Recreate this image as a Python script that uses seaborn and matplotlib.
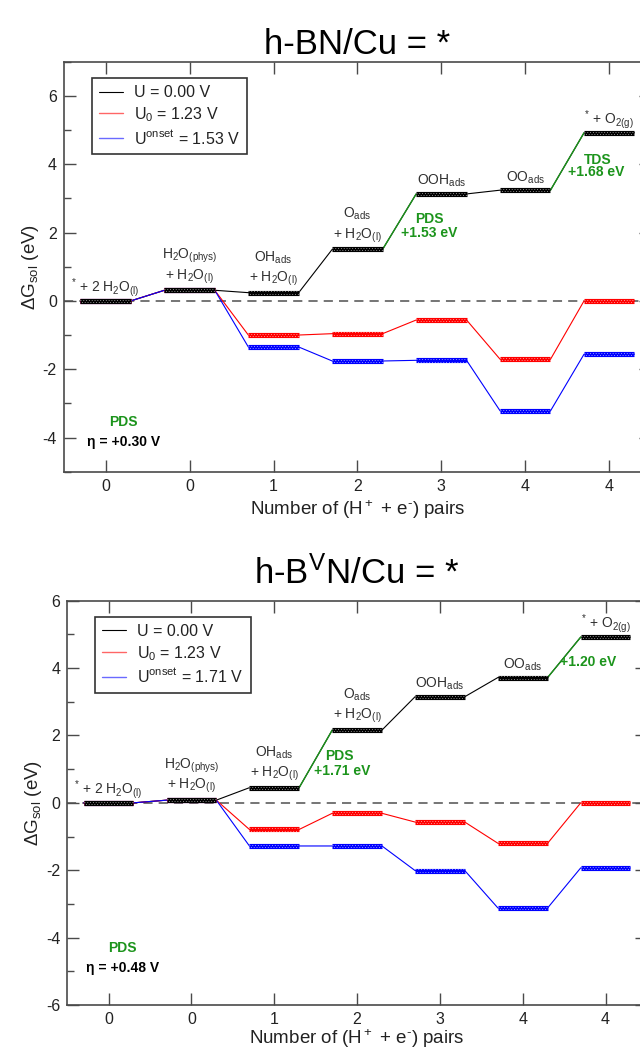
import numpy as np
import pandas as pd
import matplotlib
matplotlib.use("Agg")
import matplotlib.pyplot as plt
from matplotlib.lines import Line2D
import seaborn as sns

# ---- data -------------------------------------------------------------
states = np.arange(7)
n_pairs = ["0", "0", "1", "2", "3", "4", "4"]

# h-BN/Cu : free energies of each state (eV)
bn_U0 = [0.00, 0.31, 0.24, 1.51, 3.13, 3.24, 4.92]
bn_U123 = [0.00, 0.31, -1.00, -0.96, -0.56, -1.71, 0.00]
bn_Uonset = [0.00, 0.31, -1.35, -1.76, -1.74, -3.22, -1.56]

# h-B^V N/Cu : free energies of each state (eV)
bvn_U0 = [0.00, 0.08, 0.45, 2.16, 3.15, 3.72, 4.92]
bvn_U123 = [0.00, 0.08, -0.79, -0.31, -0.57, -1.20, 0.00]
bvn_Uonset = [0.00, 0.08, -1.28, -1.28, -2.01, -3.12, -1.93]

series_names = ["U = 0.00 V", "U$_0$ = 1.23 V", "U$^{onset}$"]
bn_onset_label = "U$^{onset}$ = 1.53 V"
bvn_onset_label = "U$^{onset}$ = 1.71 V"

# species labels: lower line sits on the level, upper line above it
species_lower = ["${}^{*}$ + 2 H$_2$O$_{(l)}$", "+ H$_2$O$_{(l)}$", "+ H$_2$O$_{(l)}$",
                 "+ H$_2$O$_{(l)}$", "OOH$_{ads}$", "OO$_{ads}$", "${}^{*}$ + O$_{2(g)}$"]
species_upper = ["", "H$_2$O$_{(phys)}$", "OH$_{ads}$", "O$_{ads}$", "", "", ""]

bn_green_steps = [3, 5]      # step i -> i+1 highlighted
bvn_green_steps = [2, 5]

bn_step_notes = [("PDS", 3.86, 2.40), ("+1.53 eV", 3.86, 2.00),
                 ("TDS", 5.86, 4.13), ("+1.68 eV", 5.85, 3.78)]
bvn_step_notes = [("PDS", 2.79, 1.39), ("+1.71 eV", 2.82, 0.94),
                  ("+1.20 eV", 5.79, 4.17)]

bn_eta = ("η = +0.30 V", 0.21, -3.56, -4.13)
bvn_eta = ("η = +0.48 V", 0.17, -4.32, -4.91)

x_title = "Number of (H$^+$ + e$^{\u2010}$) pairs"

# ---- style ------------------------------------------------------------
sns.set_style("ticks")
plt.rcParams["font.family"] = ["Liberation Sans", "DejaVu Sans"]
plt.rcParams["mathtext.fontset"] = "custom"
plt.rcParams["mathtext.rm"] = "Liberation Sans"
plt.rcParams["mathtext.it"] = "Liberation Sans"
plt.rcParams["mathtext.bf"] = "Liberation Sans:bold"
plt.rcParams["mathtext.default"] = "regular"

AX_COL = "#4a4a4a"
TXT_COL = "#303030"
GREEN = "#1c941c"
RED = "#ff0000"
BLUE = "#0000ff"
BLACK = "#000000"
HALF = 0.3


def path_frame(levels, name):
    xs, ys = [], []
    for i, e in enumerate(levels):
        xs += [i - HALF, i + HALF]
        ys += [e, e]
    return pd.DataFrame({"x": xs, "E": ys, "series": name})


def draw_levels(ax, levels, color, dot, z):
    lv = np.asarray(levels)
    ax.hlines(lv, states - HALF, states + HALF, colors=color, lw=3.7, zorder=z)
    ax.hlines(lv + 0.035, states - HALF, states + HALF, colors=dot, lw=0.7,
              linestyles=(0, (0.9, 2.0)), zorder=z + 0.1)
    ax.hlines(lv - 0.035, states - HALF, states + HALF, colors=dot, lw=0.7,
              linestyles=(1.4, (0.9, 2.0)), zorder=z + 0.1)


def panel(ax, black, red, blue, onset_label, green_steps, notes, eta, ylim, yticks,
          xpad):
    df = pd.concat([path_frame(black, "k"), path_frame(red, "r"), path_frame(blue, "b")],
                   ignore_index=True)
    ax.axhline(0, color="#505050", lw=1.1, ls=(0, (6, 4)), zorder=1)
    sns.lineplot(data=df, x="x", y="E", hue="series", hue_order=["k", "r", "b"],
                 palette={"k": BLACK, "r": RED, "b": BLUE}, sort=False,
                 estimator=None, lw=0.8, legend=False, ax=ax, zorder=2)
    for i in green_steps:
        ax.plot([i + HALF, i + 1 - HALF], [black[i], black[i + 1]],
                color=GREEN, lw=1.0, zorder=2.5)

    draw_levels(ax, blue, BLUE, "#9fa8ff", 3)
    draw_levels(ax, red, RED, "#ffa0a0", 3.3)
    draw_levels(ax, black, BLACK, "#9a9a9a", 3.6)

    for i in states:
        if species_lower[i]:
            dy = 8 if species_upper[i] else 6.5
            ax.annotate(species_lower[i], (i, black[i]), xytext=(0, dy),
                        textcoords="offset points", ha="center", va="baseline",
                        fontsize=10, color=TXT_COL, zorder=5)
        if species_upper[i]:
            ax.annotate(species_upper[i], (i, black[i]), xytext=(0, 22.5),
                        textcoords="offset points", ha="center", va="baseline",
                        fontsize=10, color=TXT_COL, zorder=5)

    for txt, x, y in notes:
        ax.text(x, y, txt, color=GREEN, fontsize=10, fontweight="bold",
                ha="center", va="center", zorder=5)

    etxt, ex, py, ey = eta
    ax.text(ex, py, "PDS", color=GREEN, fontsize=10, fontweight="bold",
            ha="center", va="center")
    ax.text(ex, ey, etxt, color="black", fontsize=10, fontweight="bold",
            ha="center", va="center")

    ax.set_xlim(-0.5, 6.5)
    ax.set_ylim(*ylim)
    ax.set_xticks(states)
    ax.set_xticklabels(n_pairs)
    ax.set_yticks(yticks)
    ax.set_yticklabels([f"{v:g}" for v in yticks])
    ax.set_yticks(np.arange(ylim[0], ylim[1] + 1, 1), minor=True)
    ax.tick_params(which="both", direction="in", top=True, right=True,
                   color=AX_COL, width=1.0, labelsize=11.5, labelcolor="#222222")
    ax.tick_params(which="major", length=8.5, pad=5)
    ax.tick_params(which="minor", length=5)
    ax.tick_params(axis="x", which="minor", top=False, bottom=False)
    for s in ax.spines.values():
        s.set_color(AX_COL)
        s.set_linewidth(1.2)
    ax.set_xlabel(x_title, fontsize=13.5, labelpad=xpad, color="#222222")
    ax.set_ylabel("ΔG$_{sol}$ (eV)", fontsize=13.5, labelpad=1, color="#222222")

    handles = [Line2D([], [], color=BLACK, lw=0.8),
               Line2D([], [], color="#ff6666", lw=1.0),
               Line2D([], [], color="#6a6aff", lw=1.0)]
    leg = ax.legend(handles, [series_names[0], series_names[1], onset_label],
                    loc="upper left", bbox_to_anchor=(0.048, 0.96),
                    borderaxespad=0, fontsize=11.5, frameon=True, fancybox=False,
                    framealpha=1, edgecolor="#333333", handlelength=1.5,
                    handletextpad=0.7, labelspacing=0.3, borderpad=0.45)
    leg.get_frame().set_linewidth(1.2)
    for t in leg.get_texts():
        t.set_color("#222222")


fig = plt.figure(figsize=(6.4, 10.5), dpi=100)
W, H = 640.0, 1050.0
ax1 = fig.add_axes([63.7 / W, 1 - 471.7 / H, 587.5 / W, 410.0 / H])
ax2 = fig.add_axes([67.2 / W, 1 - 1005.0 / H, 579.8 / W, 404.3 / H])

panel(ax1, bn_U0, bn_U123, bn_Uonset, bn_onset_label, bn_green_steps,
      bn_step_notes, bn_eta, (-5, 7), [-4, -2, 0, 2, 4, 6], 3)
panel(ax2, bvn_U0, bvn_U123, bvn_Uonset, bvn_onset_label, bvn_green_steps,
      bvn_step_notes, bvn_eta, (-6, 6), [-6, -4, -2, 0, 2, 4, 6], 0.5)

fig.text(357 / W, 1 - 54 / H, "h-BN/Cu = *", ha="center", va="baseline",
         fontsize=25, color="black")
fig.text(357 / W, 1 - 584 / H, "h-B$^{V}$N/Cu = *", ha="center", va="baseline",
         fontsize=25, color="black")

fig.savefig("out.png", dpi=100, facecolor="white")
